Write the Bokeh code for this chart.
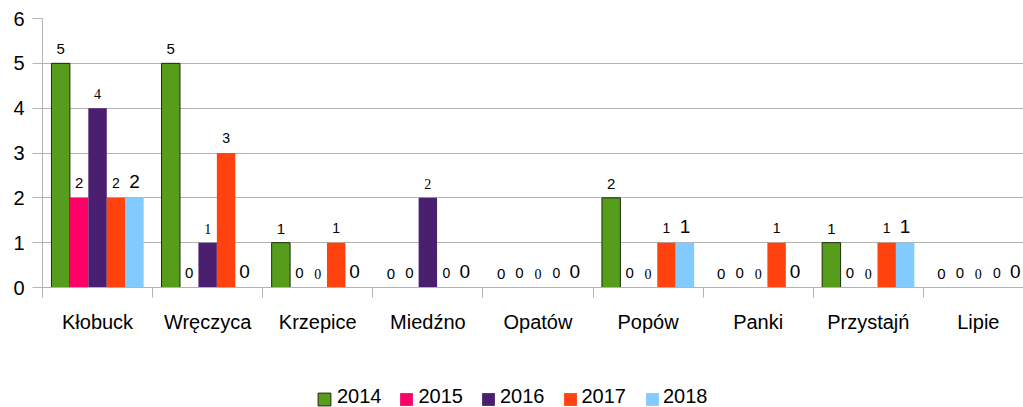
from bokeh.plotting import figure
from bokeh.layouts import column
from bokeh.models import ColumnDataSource, FixedTicker, Range1d, Legend, LegendItem
from bokeh.core.properties import value
from bokeh.embed import file_html
from bokeh.resources import INLINE

communes = ["Kłobuck", "Wręczyca", "Krzepice", "Miedźno", "Opatów",
            "Popów", "Panki", "Przystajń", "Lipie"]
years = ["2014", "2015", "2016", "2017", "2018"]
v2014 = [5, 5, 1, 0, 0, 2, 0, 1, 0]
v2015 = [2, 0, 0, 0, 0, 0, 0, 0, 0]
v2016 = [4, 1, 0, 2, 0, 0, 0, 0, 0]
v2017 = [2, 3, 1, 0, 0, 1, 1, 1, 0]
v2018 = [2, 0, 0, 0, 0, 1, 0, 1, 0]
y_ticks = [0, 1, 2, 3, 4, 5, 6]

series = [v2014, v2015, v2016, v2017, v2018]
colors = ["#579d1c", "#ff0066", "#4b1f6f", "#ff420e", "#83caff"]
outline = ["#1e2a10", None, None, None, None]
lab_fonts = ["Liberation Sans", "Liberation Sans", "Liberation Serif",
             "Liberation Sans", "Liberation Sans"]
lab_sizes = ["15px", "15px", "14px", "14px", "19px"]
lab_gaps = [14, 15, 14, 15, 16]

GRID = "#b3b3b3"
BW = 0.1675

p = figure(width=1023, height=360, x_range=Range1d(0, 8.91), y_range=Range1d(0, 6),
           output_backend="svg", toolbar_location=None,
           min_border_left=42, min_border_right=0, min_border_top=18,
           min_border_bottom=73)
p.outline_line_color = None
p.xgrid.visible = False
p.ygrid.grid_line_color = GRID
p.ygrid.ticker = FixedTicker(ticks=y_ticks)

ya = p.yaxis[0]
ya.ticker = FixedTicker(ticks=y_ticks)
ya.axis_line_color = GRID
ya.major_tick_line_color = GRID
ya.major_tick_out = 10
ya.major_tick_in = 0
ya.minor_tick_line_color = None
ya.major_label_text_font = "Liberation Sans"
ya.major_label_text_font_size = "20px"
ya.major_label_text_color = "#000000"
ya.major_label_standoff = 8

centers = [i + 0.5 for i in range(len(communes))]
xa = p.xaxis[0]
xa.ticker = FixedTicker(ticks=centers, minor_ticks=list(range(len(communes) + 1)))
xa.major_label_overrides = {c: n for c, n in zip(centers, communes)}
xa.axis_line_color = GRID
xa.major_tick_line_color = None
xa.major_tick_out = 0
xa.major_tick_in = 0
xa.minor_tick_line_color = GRID
xa.minor_tick_out = 10
xa.minor_tick_in = 0
xa.major_label_text_font = "Liberation Sans"
xa.major_label_text_font_size = "20px"
xa.major_label_text_color = "#000000"
xa.major_label_standoff = 13

# legend strip below the chart (its x range lies away from the data, so the
# proxy bars are not drawn; they only provide the legend swatches)
pl = figure(width=1023, height=47, x_range=Range1d(-3, -2), y_range=Range1d(0, 1),
            output_backend="svg", toolbar_location=None,
            x_axis_type=None, y_axis_type=None, min_border=0)
pl.outline_line_color = None
pl.grid.visible = False

label_items = []
swatch_items = []
for i, (vals, yr) in enumerate(zip(series, years)):
    xs = [c + (i - 2) * BW for c in centers]
    bx = [x for x, v in zip(xs, vals) if v > 0]
    bv = [v for v in vals if v > 0]
    src = ColumnDataSource(dict(x=bx, top=bv))
    kw = dict(line_color=outline[i], line_width=1) if outline[i] else dict(line_color=None)
    p.vbar(x="x", top="top", width=BW, bottom=0, source=src,
           fill_color=colors[i], **kw)
    tsrc = ColumnDataSource(dict(x=xs, y=vals, t=[str(v) for v in vals]))
    p.text(x="x", y="y", text="t", source=tsrc, text_align="center",
           text_baseline="alphabetic", y_offset=-lab_gaps[i],
           text_font=value(lab_fonts[i]), text_font_size=value(lab_sizes[i]),
           text_color="#000000")
    sw = pl.vbar(x="x", top="top", width=BW, bottom=0, source=src,
                 fill_color=colors[i], **kw)
    ghost = pl.vbar(x="x", top="top", width=BW, bottom=0, source=src,
                    fill_alpha=0, line_alpha=0)
    swatch_items.append(LegendItem(label=value(""), renderers=[sw]))
    label_items.append(LegendItem(label=yr, renderers=[ghost]))

legend_labels = Legend(items=label_items, orientation="horizontal", location=(275, -1),
                       glyph_width=13, glyph_height=13, label_standoff=7, spacing=17,
                       padding=0, margin=0, border_line_color=None,
                       background_fill_alpha=0, label_text_font="Liberation Sans",
                       label_text_font_size="20px", label_text_color="#000000")
legend_swatches = Legend(items=swatch_items, orientation="horizontal", location=(274, 0),
                         glyph_width=16, glyph_height=16, label_standoff=0, spacing=66,
                         label_height=0, label_width=0, padding=0, margin=0,
                         border_line_color=None, background_fill_alpha=0,
                         label_text_font_size="1px")
pl.add_layout(legend_labels, "center")
pl.add_layout(legend_swatches, "center")

layout = column(p, pl, spacing=0)
open("out.html", "w").write(file_html(layout, INLINE))
